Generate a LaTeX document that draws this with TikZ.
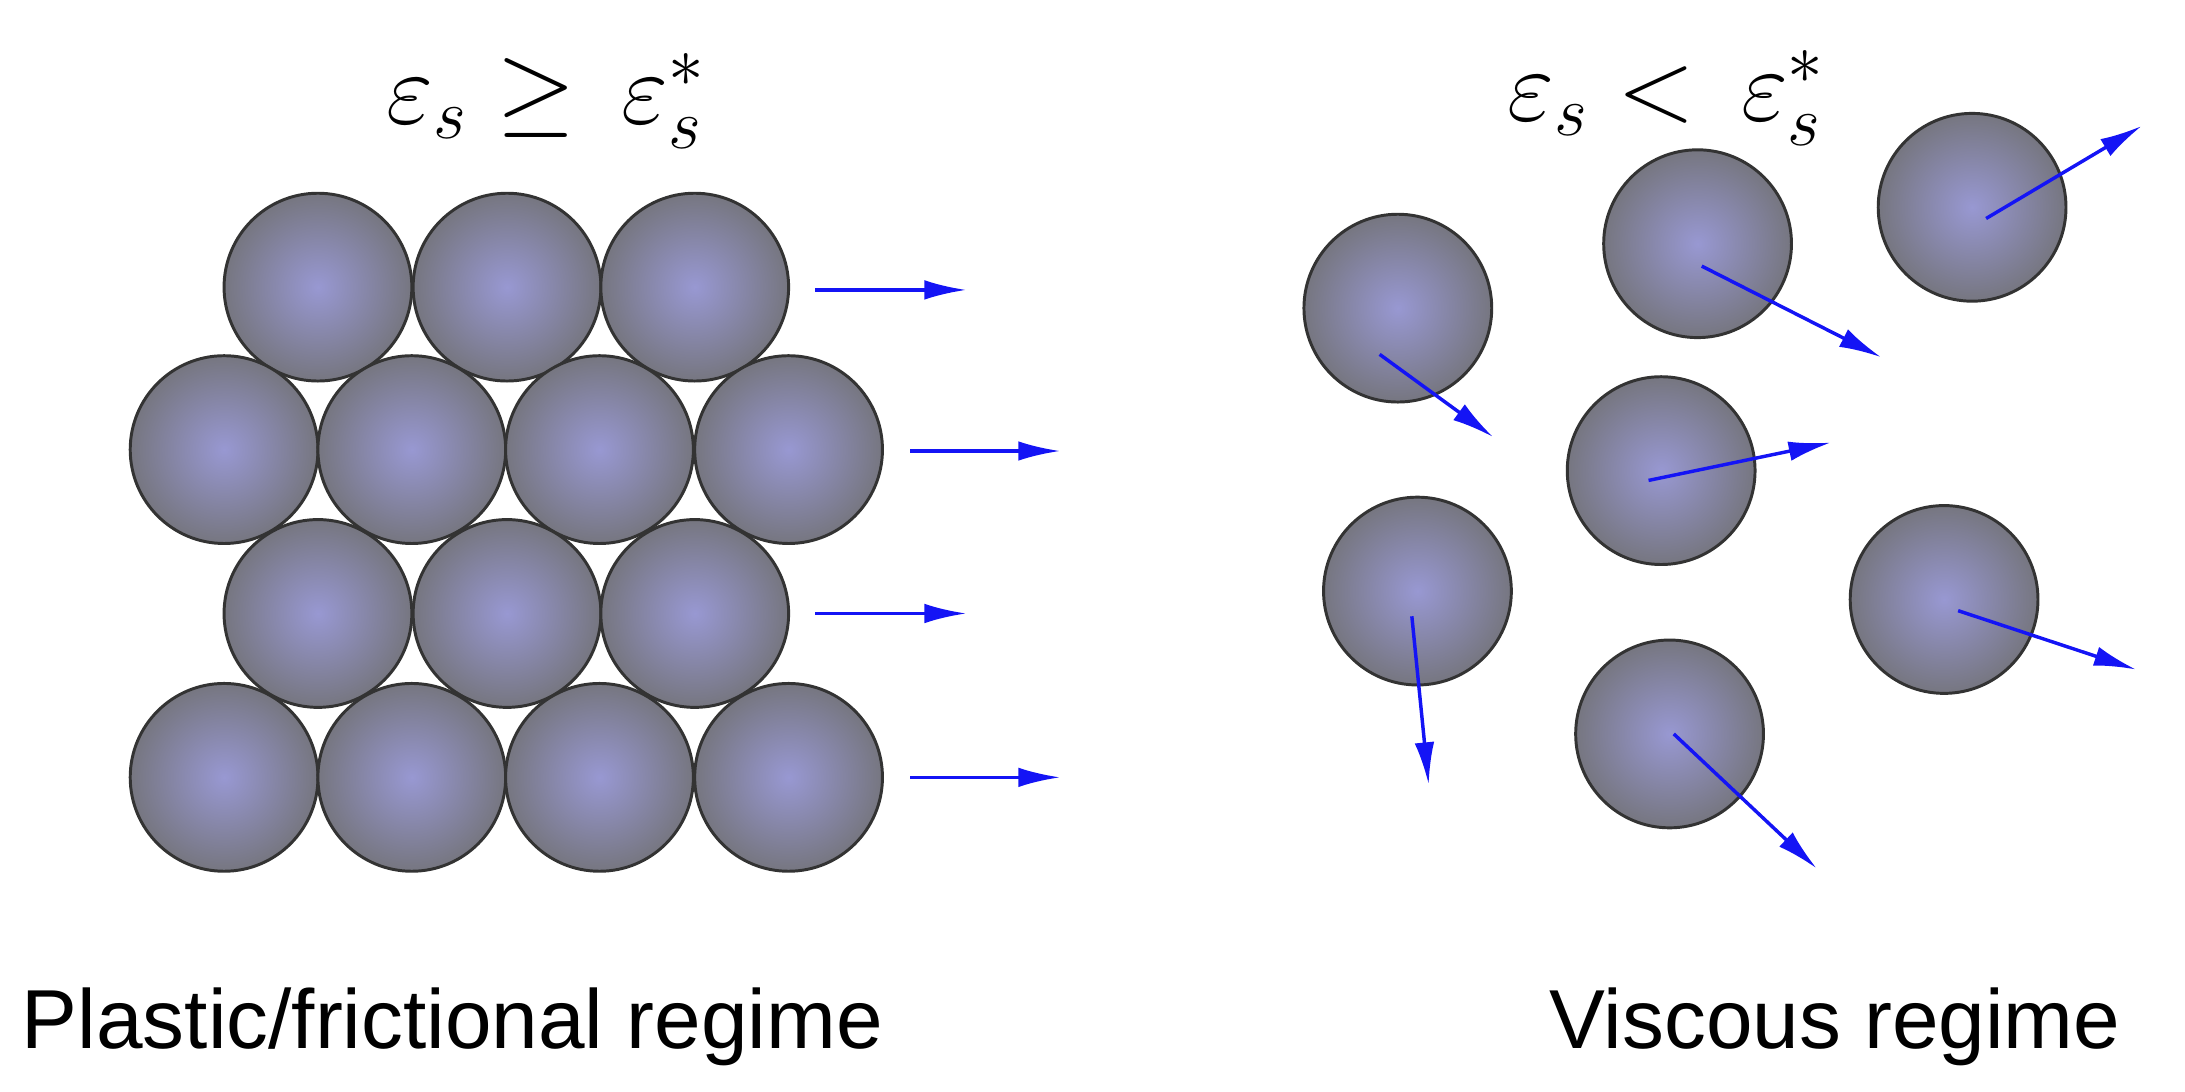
\documentclass[tikz,border=0pt]{standalone}
\usepackage{fontspec}
\setmainfont{Liberation Sans}
\usepackage{amsmath}
\usetikzlibrary{arrows.meta}
\definecolor{ballin}{RGB}{152,152,210}
\definecolor{ballout}{RGB}{118,118,128}
\definecolor{arr}{RGB}{20,20,245}
\tikzset{ball/.style={circle,draw=black!80,line width=0.6pt,minimum size=1.34cm,inner sep=0pt,inner color=ballin,outer color=ballout},
vel/.style={draw=arr,line width=0.7pt,-{Latex[length=0.3cm,width=0.14cm]}}}
\begin{document}
\begin{tikzpicture}[x=0.01cm,y=-0.01cm]
\useasboundingbox (0,0) rectangle (1560,779);
\node (t1) at (390,72) {\fontsize{22}{26}\selectfont$\varepsilon_s \geq\, \varepsilon^{*}_{s}$};
\node (t2) at (1190,70) {\fontsize{22}{26}\selectfont$\varepsilon_s <\, \varepsilon^{*}_{s}$};
\foreach \n/\x/\y in {a1/227/205,a2/362/205,a3/496/205,b1/160/321,b2/294/321,b3/428/321,b4/563/321,c1/227/438,c2/362/438,c3/496/438,d1/160/555,d2/294/555,d3/428/555,d4/563/555,
 r1/998/220,r2/1212/174,r3/1408/148,r4/1186/336,r5/1012/422,r6/1388/428,r7/1192/524}
  \node[ball] (\n) at (\x,\y) {};
\foreach \n/\x/\y/\u/\v in {p1/582/207/690/207,p2/650/322/757/322,p3/582/438/690/438,p4/650/555/757/555,
 q1/985/253/1066/312,q2/1215/190/1343/255,q3/1418/156/1529/90,q4/1177/343/1307/316,q5/1008/440/1020/560,q6/1398/436/1525/478,q7/1195/524/1297/620}{
  \coordinate (\n s) at (\x,\y); \coordinate (\n e) at (\u,\v);
  \draw[vel] (\n s) -- (\n e);}
\node (l1) at (323,733) {\fontsize{17}{20}\selectfont Plastic/frictional regime};
\node (l2) at (1310,733) {\fontsize{17}{20}\selectfont Viscous regime};
\end{tikzpicture}
\end{document}
